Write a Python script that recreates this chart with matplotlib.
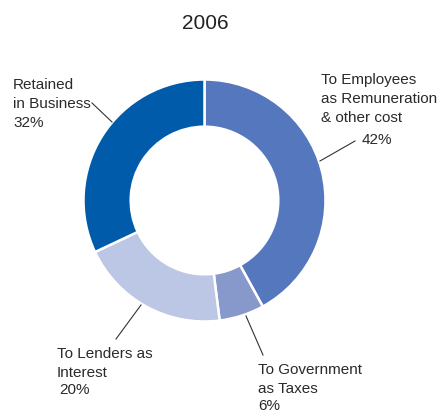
import matplotlib
matplotlib.use("Agg")
import matplotlib.pyplot as plt

plt.rcParams['font.family'] = ['Liberation Sans', 'DejaVu Sans']

categories = ["To Employees\nas Remuneration\n& other cost",
              "To Government\nas Taxes",
              "To Lenders as\nInterest",
              "Retained\nin Business"]
shares = [42, 6, 20, 32]
colors = ["#5577be", "#8798cb", "#bcc6e5", "#005bab"]
title = "2006"

W, H = 444, 412
fig = plt.figure(figsize=(W / 100, H / 100), dpi=100)
ax = fig.add_axes([0, 0, 1, 1])

# pixel-like coordinate frame (y grows downward), so the pie runs
# clockwise from the top with counterclock=True and startangle=-90
cx, cy, r = 204.5, 200.5, 121
ax.pie(shares, colors=colors, startangle=-90, counterclock=True,
       center=(cx, cy), radius=r, frame=True,
       wedgeprops=dict(width=r * 0.39, edgecolor='white', linewidth=1.8))
ax.set_xlim(0, W)
ax.set_ylim(H, 0)
ax.set_aspect('equal')
ax.axis('off')

ax.text(205, 23, title, ha='center', va='center', fontsize=15, color='#222222')

fs = 11
tc = '#2a2a2a'
step = 19.2
lines = {
    0: dict(x=321, y=78, pct_x=362, pct_y=138, seg=((320, 161), (355, 141))),
    1: dict(x=258, y=368, pct_x=258, pct_y=405, seg=((246, 316), (263, 355))),
    2: dict(x=57, y=352, pct_x=59, pct_y=389, seg=((141, 305), (116, 339))),
    3: dict(x=13, y=83, pct_x=13, pct_y=121, seg=((92, 103), (112, 122))),
}
for i, d in lines.items():
    for k, row in enumerate(categories[i].split("\n")):
        ax.text(d['x'], d['y'] + k * step, row, ha='left', va='center_baseline',
                fontsize=fs, color=tc)
    ax.text(d['pct_x'], d['pct_y'], f"{shares[i]}%", ha='left',
            va='center_baseline', fontsize=fs, color=tc)
    (x0, y0), (x1, y1) = d['seg']
    ax.plot([x0, x1], [y0, y1], color='#333333', linewidth=0.8)

fig.savefig("out.png", dpi=100, facecolor='white')
